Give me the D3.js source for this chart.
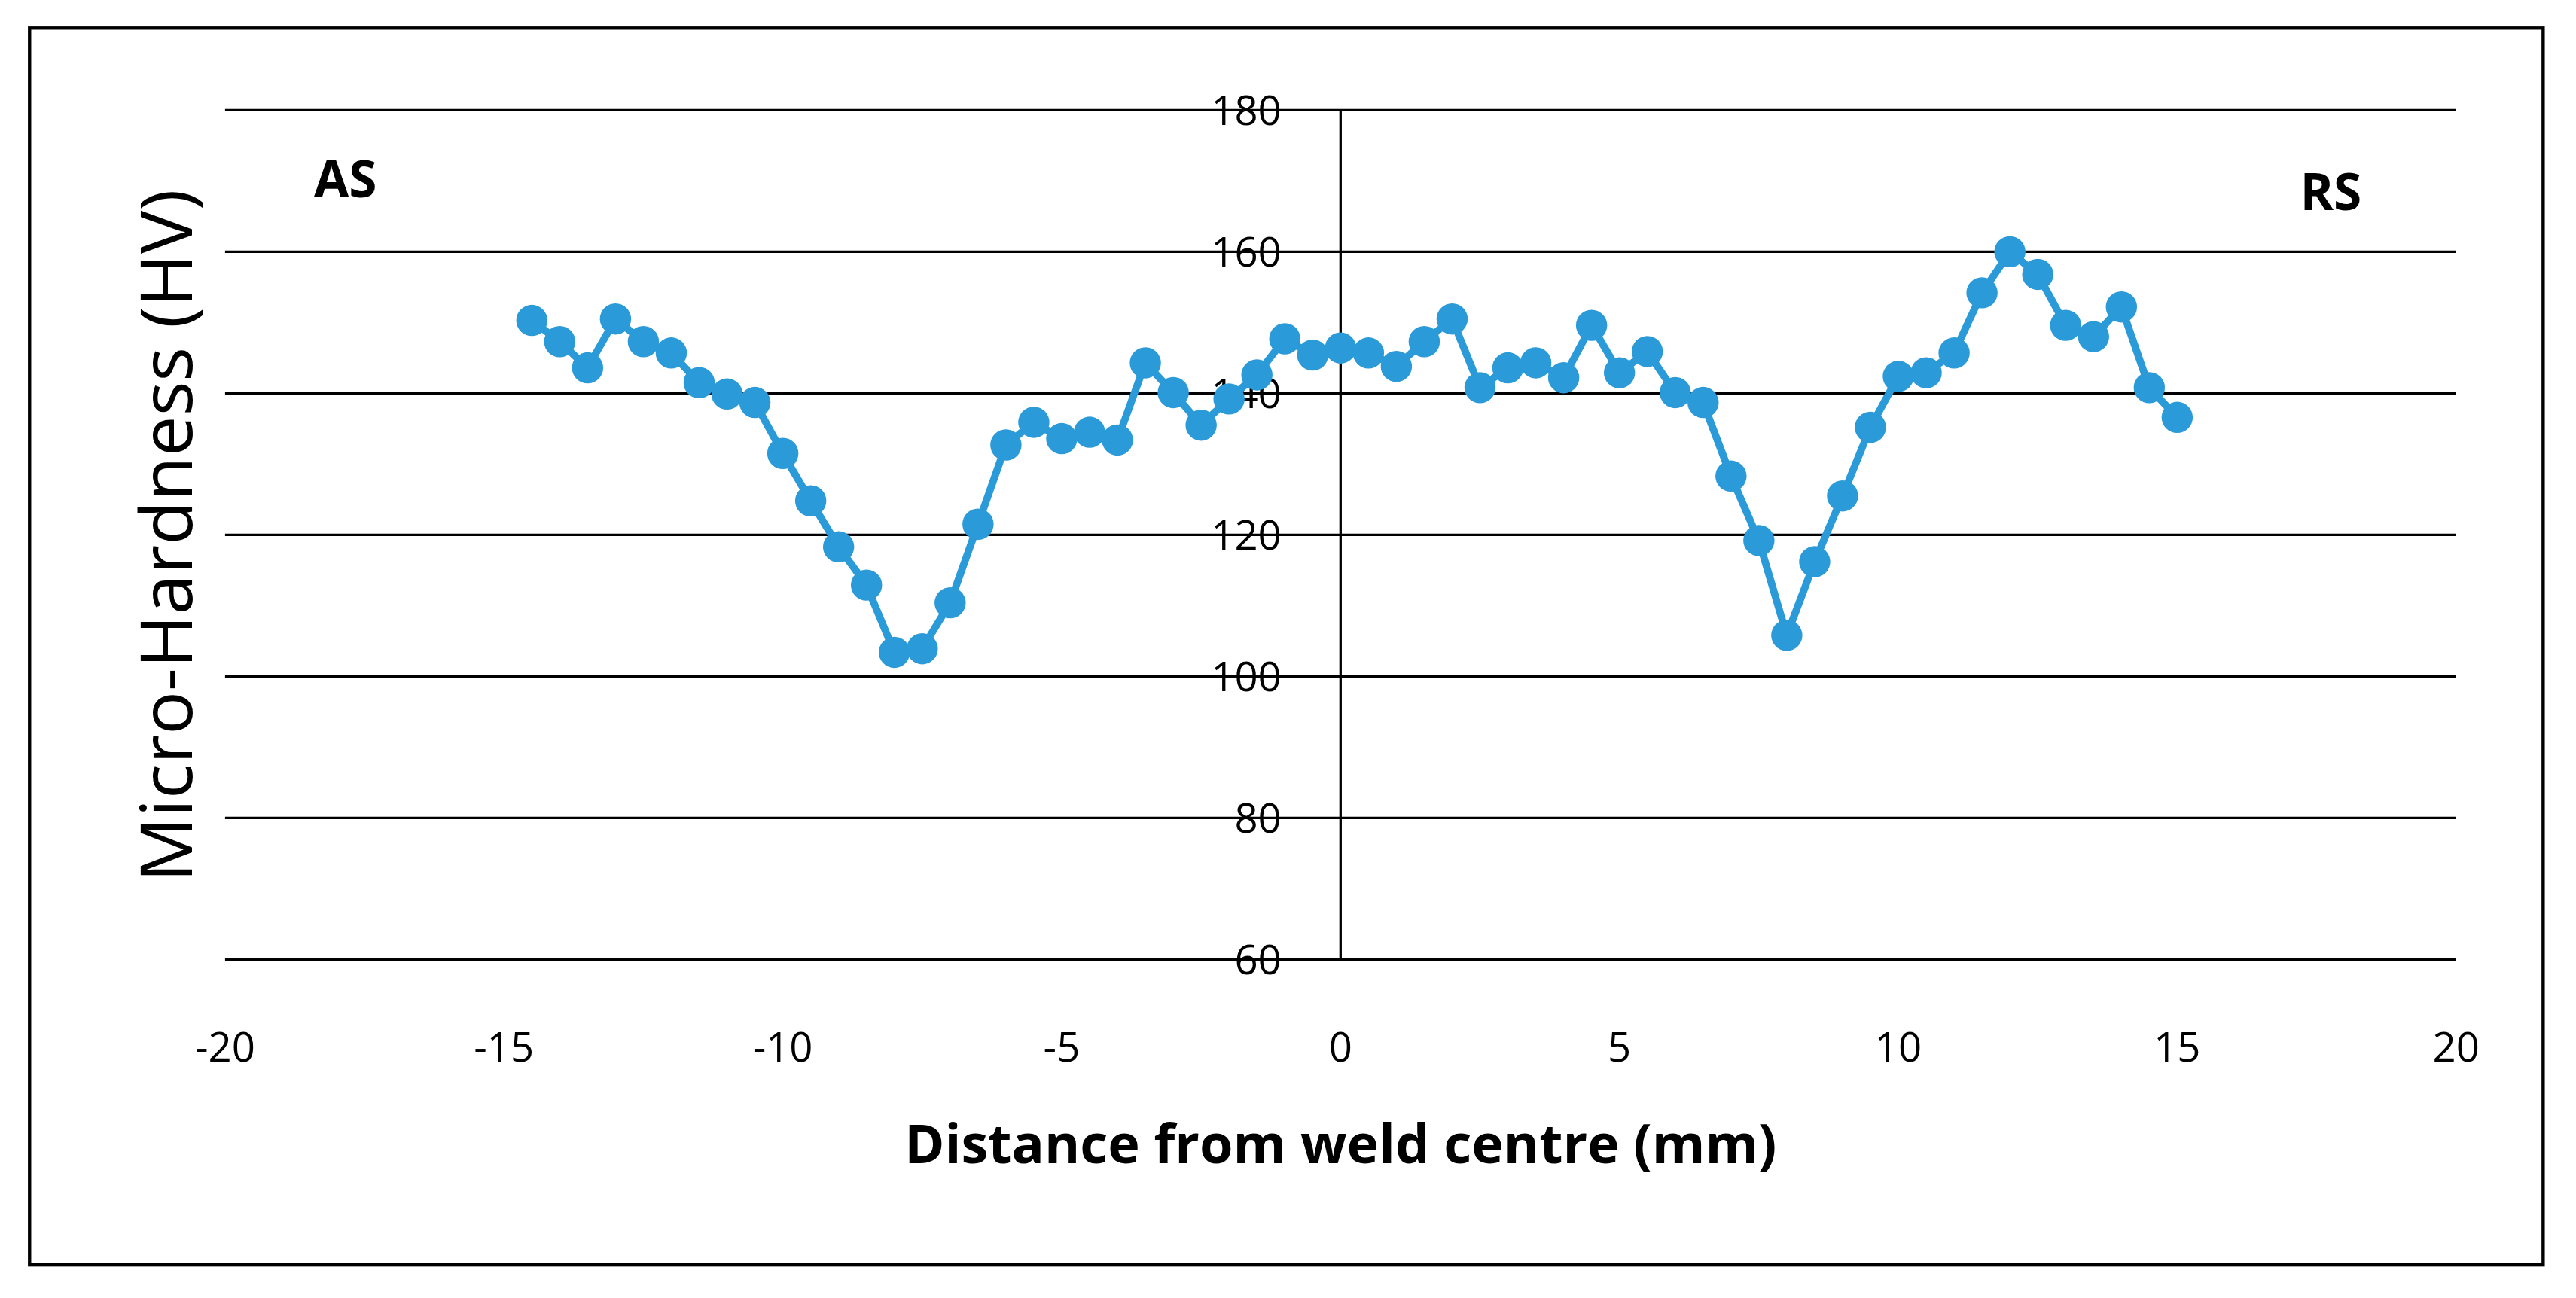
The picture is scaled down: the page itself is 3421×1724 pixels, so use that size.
<!DOCTYPE html>
<html><head><meta charset="utf-8">
<script src="https://cdn.jsdelivr.net/npm/d3@7"></script>
<style>body{margin:0;background:#fff}</style>
</head><body>
<script>
var distance = [-14.5,-14,-13.5,-13,-12.5,-12,-11.5,-11,-10.5,-10,-9.5,-9,-8.5,-8,-7.5,-7,-6.5,-6,-5.5,-5,-4.5,-4,-3.5,-3,-2.5,-2,-1.5,-1,-0.5,0,0.5,1,1.5,2,2.5,3,3.5,4,4.5,5,5.5,6,6.5,7,7.5,8,8.5,9,9.5,10,10.5,11,11.5,12,12.5,13,13.5,14,14.5,15]
var hardness = [150.3,147.3,143.6,150.5,147.3,145.7,141.5,139.9,138.7,131.5,124.8,118.3,112.9,103.4,103.9,110.4,121.5,132.7,135.9,133.6,134.5,133.4,144.3,140.1,135.5,139.2,142.6,147.7,145.4,146.4,145.7,143.8,147.3,150.5,140.8,143.6,144.3,142.2,149.6,142.9,145.9,140.1,138.7,128.3,119.2,105.8,116.2,125.5,135.2,142.4,142.9,145.7,154.2,160,156.8,149.6,148,152.2,140.8,136.6]
var xTicks = [-20,-15,-10,-5,0,5,10,15,20]
var yTicks = [60,80,100,120,140,160,180]

var font = "'Open Sans', 'Liberation Sans', sans-serif"
var svg = d3.select('body').append('svg')
    .attr('width',3421).attr('height',1724)
    .attr('viewBox','0 0 1568 790')
    .style('font-family',font)

// outer frame
svg.append('rect').attr('x',18).attr('y',17).attr('width',1530).attr('height',753)
    .attr('fill','none').attr('stroke','#000').attr('stroke-width',2)

var x = d3.scaleLinear().domain([-20,20]).range([137,1495])
var y = d3.scaleLinear().domain([60,180]).range([584,67])

// gridlines
svg.selectAll('.grid').data(yTicks).enter().append('line')
    .attr('x1',x(-20)).attr('x2',x(20))
    .attr('y1',function(d){return y(d)}).attr('y2',function(d){return y(d)})
    .attr('stroke','#000').attr('stroke-width',1.5)

// vertical axis at x=0
svg.append('line').attr('x1',x(0)).attr('x2',x(0)).attr('y1',y(180)).attr('y2',y(60))
    .attr('stroke','#000').attr('stroke-width',1.5)

svg.selectAll('.ylab').data(yTicks).enter().append('text')
    .attr('x',x(0)-36).attr('y',function(d){return y(d)+9})
    .attr('text-anchor','end').attr('font-size',25).attr('fill','#000')
    .text(function(d){return d})

svg.selectAll('.xlab').data(xTicks).enter().append('text')
    .attr('x',function(d){return x(d)}).attr('y',646)
    .attr('text-anchor','middle').attr('font-size',25).attr('fill','#000')
    .text(function(d){return d})

var pts = distance.map(function(d,i){return [d,hardness[i]]})
var color = '#2a9ad8'
svg.append('path').datum(pts)
    .attr('d',d3.line().x(function(d){return x(d[0])}).y(function(d){return y(d[1])}))
    .attr('fill','none').attr('stroke',color).attr('stroke-width',4.5)
svg.selectAll('.pt').data(pts).enter().append('circle')
    .attr('cx',function(d){return x(d[0])}).attr('cy',function(d){return y(d[1])})
    .attr('r',9.5).attr('fill',color)

svg.append('text').attr('transform','translate(117,326) rotate(-90)')
    .attr('text-anchor','middle').attr('font-size',44).text('Micro-Hardness (HV)')
svg.append('text').attr('x',816).attr('y',708).attr('text-anchor','middle')
    .attr('font-size',33).attr('font-weight','bold').text('Distance from weld centre (mm)')
svg.append('text').attr('x',191).attr('y',120).attr('font-size',31).attr('font-weight','bold').text('AS')
svg.append('text').attr('x',1400).attr('y',128).attr('font-size',31).attr('font-weight','bold').text('RS')
</script>
</body></html>
